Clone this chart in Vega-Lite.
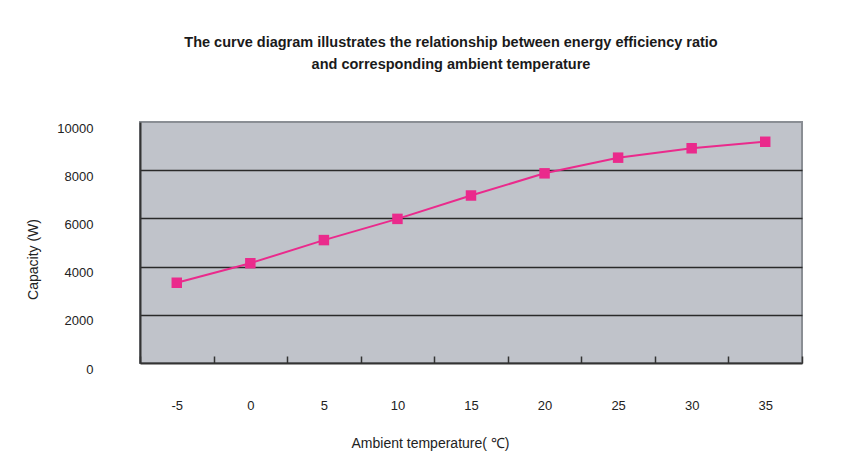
{
  "$schema": "https://vega.github.io/schema/vega-lite/v6.json",
  "autosize": "none",
  "width": 662,
  "height": 241,
  "padding": {"left": 140, "top": 122, "right": 54, "bottom": 108},
  "background": "white",
  "title": {
    "text": ["The curve diagram illustrates the relationship between energy efficiency ratio", "and corresponding ambient temperature"],
    "font": "Liberation Sans",
    "fontSize": 14.5,
    "fontWeight": "bold",
    "color": "#1a1a1a",
    "lineHeight": 22,
    "anchor": "middle",
    "dx": -20,
    "offset": 50
  },
  "data": {
    "values": [
      {"temp": -5, "capacity": 3330},
      {"temp": 0, "capacity": 4140},
      {"temp": 5, "capacity": 5100},
      {"temp": 10, "capacity": 5980},
      {"temp": 15, "capacity": 6950},
      {"temp": 20, "capacity": 7870},
      {"temp": 25, "capacity": 8520},
      {"temp": 30, "capacity": 8910},
      {"temp": 35, "capacity": 9180}
    ]
  },
  "config": {
    "view": {"fill": "#c0c3ca", "stroke": "#8a8e94", "strokeWidth": 2},
    "axis": {"labelFont": "Liberation Sans", "titleFont": "Liberation Sans", "labelColor": "#222", "titleColor": "#222", "titleFontWeight": "normal"}
  },
  "encoding": {
    "x": {
      "field": "temp",
      "type": "ordinal",
      "scale": {"type": "band", "paddingInner": 0, "paddingOuter": 0},
      "axis": {
        "title": "Ambient temperature( ℃)",
        "labelAngle": 0,
        "labelFontSize": 13,
        "labelPadding": 43,
        "tickBand": "extent",
        "tickSize": -7,
        "tickColor": "#333",
        "tickWidth": 1.5,
        "domainColor": "#333",
        "domainWidth": 2,
        "grid": false,
        "titleFontSize": 14,
        "titleX": 290,
        "titleY": 80,
        "titleAnchor": "middle",
        "titleAlign": "center",
        "titleBaseline": "middle"
      }
    },
    "y": {
      "field": "capacity",
      "type": "quantitative",
      "scale": {"domain": [0, 10000]},
      "axis": {
        "title": "Capacity (W)",
        "values": [0, 2000, 4000, 6000, 8000, 10000],
        "format": "d",
        "ticks": false,
        "labelFontSize": 13,
        "labelPadding": 47,
        "labelOffset": 6,
        "domainColor": "#333",
        "domainWidth": 2,
        "grid": true,
        "gridColor": {"condition": {"test": "datum.value >= 10000 || datum.value <= 0", "value": "transparent"}, "value": "#2a2a2a"},
        "gridWidth": 1.5,
        "gridOpacity": 1,
        "titleFontSize": 14,
        "titleX": -107,
        "titleY": 137,
        "titleAngle": -90,
        "titleAlign": "center",
        "titleBaseline": "middle"
      }
    }
  },
  "layer": [
    {"mark": {"type": "line", "color": "#ea2a8c", "strokeWidth": 2}},
    {"mark": {"type": "square", "color": "#ea2a8c", "fill": "#ea2a8c", "opacity": 1, "size": 110}}
  ]
}
